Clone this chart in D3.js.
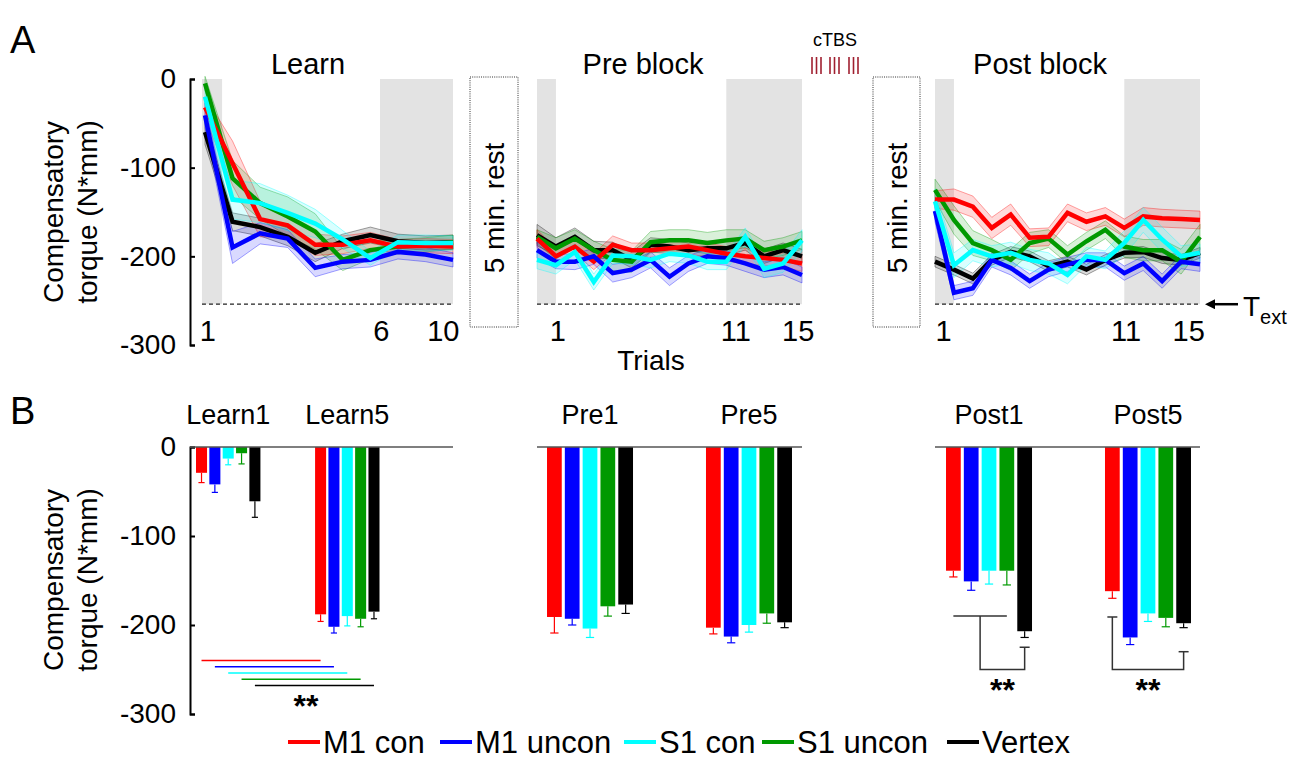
<!DOCTYPE html>
<html><head><meta charset="utf-8">
<script src="https://cdn.jsdelivr.net/npm/d3@7"></script>
<style>
body{margin:0;background:#fff;}
svg text{font-family:"Liberation Sans",Arial,sans-serif;fill:#000;}
</style></head>
<body>
<svg id="c" width="1289" height="759"></svg>
<script>
// ---------- DATA ----------
const seriesNames = ["M1 con","M1 uncon","S1 con","S1 uncon","Vertex"];
const seriesColors = ["#ff0000","#0000ff","#00ffff","#009900","#000000"];

const learnTrials = [1,2,3,4,5,6,7,8,9,10];
const blockTrials = [1,2,3,4,5,6,7,8,9,10,11,12,13,14,15];

const learnM1con   = [-32,-95,-158,-165,-187,-187,-182,-189,-188,-189];
const learnM1uncon = [-41,-190,-174,-180,-213,-206,-204,-195,-198,-204];
const learnS1con   = [-20,-136,-140,-151,-163,-181,-202,-184,-185,-185];
const learnS1uncon = [-5,-112,-140,-155,-172,-204,-193,-189,-187,-184];
const learnVertex  = [-60,-161,-167,-178,-196,-183,-176,-183,-185,-184];
const learnM1conSem   = [12,25,20,14,12,10,9,8,8,8];
const learnM1unconSem = [14,18,12,10,10,8,8,8,8,8];
const learnS1conSem   = [10,22,22,20,16,10,8,8,9,8];
const learnS1unconSem = [8,20,18,22,20,12,10,8,8,8];
const learnVertexSem  = [14,10,10,10,10,8,9,8,8,8];

const preM1con   = [-180,-200,-189,-206,-187,-193,-193,-191,-189,-193,-197,-200,-202,-204,-208];
const preM1uncon = [-193,-206,-206,-200,-219,-215,-204,-223,-208,-200,-202,-208,-215,-212,-221];
const preS1con   = [-204,-210,-195,-229,-199,-200,-204,-197,-199,-206,-206,-178,-214,-208,-182];
const preS1uncon = [-178,-191,-180,-193,-204,-206,-184,-182,-182,-185,-182,-180,-193,-189,-182];
const preVertex  = [-176,-189,-178,-193,-193,-204,-187,-189,-193,-191,-191,-185,-200,-193,-200];
const preM1conSem   = [10,9,8,9,10,8,8,8,8,8,8,9,8,8,9];
const preM1unconSem = [9,8,9,9,10,9,9,10,9,8,8,9,9,9,9];
const preS1conSem   = [10,10,9,9,9,9,9,9,9,9,9,10,10,10,12];
const preS1unconSem = [8,12,10,10,12,12,12,12,12,12,12,10,10,10,10];
const preVertexSem  = [12,10,10,10,9,9,8,8,8,8,8,8,8,8,8];

const postM1con   = [-136,-136,-144,-168,-153,-179,-178,-151,-161,-155,-168,-155,-157,-158,-159];
const postM1uncon = [-149,-241,-236,-204,-213,-228,-215,-209,-204,-204,-219,-208,-228,-206,-209];
const postS1con   = [-138,-210,-193,-200,-196,-204,-208,-221,-200,-204,-185,-159,-181,-200,-196];
const postS1uncon = [-125,-159,-185,-193,-204,-185,-180,-198,-183,-170,-189,-193,-193,-206,-178];
const postVertex  = [-206,-215,-225,-204,-195,-200,-211,-206,-215,-204,-196,-195,-202,-204,-196];
const postM1conSem   = [10,12,12,12,12,10,10,10,10,10,10,10,10,10,10];
const postM1unconSem = [12,8,8,8,8,8,8,8,8,8,8,8,8,8,8];
const postS1conSem   = [14,14,12,12,12,12,12,10,10,10,14,14,14,12,10];
const postS1unconSem = [12,16,14,12,12,12,10,10,10,10,12,12,12,14,14];
const postVertexSem  = [6,6,6,6,6,6,6,6,6,6,6,6,6,6,6];

const T_ext = -254;

const barGroups = ["Learn1","Learn5","Pre1","Pre5","Post1","Post5"];
const learn1Bars = [-29,-42,-13,-7,-61];
const learn1Err  = [11,9,7,12,18];
const learn5Bars = [-188,-202,-190,-193,-185];
const learn5Err  = [8,7,11,9,8];
const pre1Bars = [-191,-193,-204,-179,-177];
const pre1Err  = [18,7,10,11,10];
const pre5Bars = [-203,-213,-200,-187,-197];
const pre5Err  = [7,7,8,11,6];
const post1Bars = [-139,-151,-139,-139,-207];
const post1Err  = [7,10,15,16,7];
const post5Bars = [-162,-214,-187,-192,-198];
const post5Err  = [8,8,9,10,5];

const yTicks = [0,-100,-200,-300];
const learnTickLabels = ["1","6","10"];
const blockTickLabels = ["1","11","15"];
const sigLearnLevels = [-240,-247,-254,-261,-268];

// ---------- DRAW ----------
const svg = d3.select("#c");
const FONT = '"Liberation Sans",Arial,sans-serif';

const yA = d3.scaleLinear().domain([-300,0]).range([345,79]);
const yB = d3.scaleLinear().domain([-300,0]).range([714,447]);

const xLearn = d3.scaleLinear().domain([1,10]).range([205,453]);
const xPre = d3.scaleLinear().domain([1,15]).range([537,802]);
const xPost = d3.scaleLinear().domain([1,15]).range([935,1200]);

const learnData = [[learnM1con,learnM1conSem],[learnM1uncon,learnM1unconSem],[learnS1con,learnS1conSem],[learnS1uncon,learnS1unconSem],[learnVertex,learnVertexSem]];
const preData = [[preM1con,preM1conSem],[preM1uncon,preM1unconSem],[preS1con,preS1conSem],[preS1uncon,preS1unconSem],[preVertex,preVertexSem]];
const postData = [[postM1con,postM1conSem],[postM1uncon,postM1unconSem],[postS1con,postS1conSem],[postS1uncon,postS1unconSem],[postVertex,postVertexSem]];

const drawOrder = [4,3,0,1,2];

function block(x, trials, data, bands, xExtent, title, titleX, tickVals, tickLabels) {
  const g = svg.append("g");
  bands.forEach(b => {
    g.append("rect").attr("x", x(b[0])).attr("y", yA(0))
      .attr("width", x(b[1]) - x(b[0])).attr("height", yA(T_ext) - yA(0))
      .attr("fill", "#e3e3e3");
  });
  g.append("line").attr("x1", x(xExtent[0])).attr("x2", x(xExtent[1]))
    .attr("y1", yA(T_ext)).attr("y2", yA(T_ext))
    .attr("stroke", "#222").attr("stroke-width", 1.3).attr("stroke-dasharray", "4,3");
  const area = d3.area().x((d,i) => x(trials[i])).y0(d => yA(d[0]-d[1])).y1(d => yA(d[0]+d[1]));
  const line = d3.line().x((d,i) => x(trials[i])).y(d => yA(d));
  drawOrder.forEach(s => {
    const [m, e] = data[s];
    const pts = m.map((v,i) => [v, e[i]]);
    g.append("path").attr("d", area(pts)).attr("fill", seriesColors[s]).attr("fill-opacity", 0.15)
      .attr("stroke", seriesColors[s]).attr("stroke-opacity", 0.45).attr("stroke-width", 0.8);
  });
  drawOrder.forEach(s => {
    g.append("path").attr("d", line(data[s][0])).attr("fill", "none")
      .attr("stroke", seriesColors[s]).attr("stroke-width", 4.5).attr("stroke-linejoin", "miter");
  });
  g.append("text").attr("x", titleX).attr("y", 74).attr("text-anchor", "middle")
    .attr("font-size", 29).text(title);
  tickVals.forEach((v,i) => {
    g.append("text").attr("x", x(v)).attr("y", 341).attr("text-anchor", "middle")
      .attr("font-size", 29).text(tickLabels[i]);
  });
}

block(xLearn, learnTrials, learnData, [[0.89,1.62],[7.35,10]], [0.89,10], "Learn", 308, [1.1,7.4,9.65], learnTickLabels);
block(xPre, blockTrials, preData, [[1,2],[11,15]], [1,15], "Pre block", 643, [2.1,11.5,14.8], blockTickLabels);
block(xPost, blockTrials, postData, [[1,2],[11,15]], [1,15], "Post block", 1040, [1.45,11.1,14.4], blockTickLabels);

// Y axes
function yAxis(scale) {
  const g = svg.append("g").attr("transform", "translate(190,0)");
  g.call(d3.axisLeft(scale).tickValues(yTicks).tickFormat(d => String(d)).tickSize(-5).tickPadding(14));
  g.select(".domain").attr("stroke", "#000").attr("stroke-width", 2);
  g.selectAll(".tick line").attr("stroke", "#000").attr("stroke-width", 2);
  g.selectAll(".tick text").attr("font-size", 28).attr("font-family", FONT).attr("fill", "#000");
}
yAxis(yA);
yAxis(yB);

function yLabel(cy) {
  svg.append("text").attr("transform", `translate(63,${cy}) rotate(-90)`)
    .attr("text-anchor", "middle").attr("font-size", 28).text("Compensatory");
  svg.append("text").attr("transform", `translate(97,${cy}) rotate(-90)`)
    .attr("text-anchor", "middle").attr("font-size", 28).text("torque (N*mm)");
}
yLabel(212);
yLabel(580);

svg.append("text").attr("x", 10).attr("y", 53).attr("font-size", 38).text("A");
svg.append("text").attr("x", 10).attr("y", 424).attr("font-size", 38).text("B");
svg.append("text").attr("x", 651).attr("y", 370).attr("text-anchor", "middle").attr("font-size", 28).text("Trials");

// rest boxes
[[470,518],[873,920]].forEach(b => {
  svg.append("rect").attr("x", b[0]).attr("y", 77).attr("width", b[1]-b[0]).attr("height", 250)
    .attr("fill", "none").attr("stroke", "#333").attr("stroke-width", 1).attr("stroke-dasharray", "1,1.2");
  svg.append("text").attr("transform", `translate(${(b[0]+b[1])/2 + 10},208) rotate(-90)`)
    .attr("text-anchor", "middle").attr("font-size", 28).text("5 min. rest");
});

// cTBS
svg.append("text").attr("x", 835).attr("y", 46).attr("text-anchor", "middle").attr("font-size", 18).text("cTBS");
[812,816.5,821,830,834.5,839,849,853.5,858].forEach(x => {
  svg.append("line").attr("x1", x).attr("x2", x).attr("y1", 57).attr("y2", 74)
    .attr("stroke", "#a02030").attr("stroke-width", 1.6);
});

// T_ext arrow
svg.append("defs").append("marker").attr("id","ah").attr("viewBox","0 0 10 10").attr("refX",1).attr("refY",5)
  .attr("markerWidth",4).attr("markerHeight",4).attr("orient","auto-start-reverse")
  .append("path").attr("d","M0,0 L10,5 L0,10 z").attr("fill","#000");
svg.append("line").attr("x1", 1238).attr("x2", 1214).attr("y1", yA(T_ext)).attr("y2", yA(T_ext))
  .attr("stroke", "#000").attr("stroke-width", 2.5).attr("marker-end", "url(#ah)");
const tt = svg.append("text").attr("x", 1243).attr("y", 316).attr("font-size", 28);
tt.append("tspan").text("T");
tt.append("tspan").attr("font-size", 20).attr("dy", 8).text("ext");

// ---------- PANEL B ----------
const sections = [
  {range:[188.5,387], groups:["Learn1","Learn5"], vals:[learn1Bars,learn5Bars], errs:[learn1Err,learn5Err], zero:[190,453]},
  {range:[537,802], groups:["Pre1","Pre5"], vals:[pre1Bars,pre5Bars], errs:[pre1Err,pre5Err], zero:[537,802]},
  {range:[936,1201], groups:["Post1","Post5"], vals:[post1Bars,post5Bars], errs:[post1Err,post5Err], zero:[935,1200]}
];
const centers = {};
sections.forEach(sec => {
  const gx = d3.scaleBand().domain(sec.groups).range(sec.range).paddingInner(0.459).paddingOuter(0.063);
  const sx = d3.scaleBand().domain(d3.range(5)).range([0, gx.bandwidth()]).paddingInner(0.173);
  sec.groups.forEach((gname, gi) => {
    const x0 = gx(gname);
    centers[gname] = seriesNames.map((s,i) => x0 + sx(i) + sx.bandwidth()/2);
    svg.append("text").attr("x", x0 + gx.bandwidth()/2).attr("y", 424).attr("text-anchor", "middle")
      .attr("font-size", 27).text(gname);
    sec.vals[gi].forEach((v,i) => {
      const bx = x0 + sx(i);
      svg.append("rect").attr("x", bx).attr("y", yB(0)).attr("width", sx.bandwidth())
        .attr("height", yB(v) - yB(0)).attr("fill", seriesColors[i]);
      const cx = bx + sx.bandwidth()/2, cw = sx.bandwidth()*0.28;
      const e = sec.errs[gi][i];
      svg.append("line").attr("x1", cx).attr("x2", cx).attr("y1", yB(v)).attr("y2", yB(v - e))
        .attr("stroke", seriesColors[i]).attr("stroke-width", 1.2);
      svg.append("line").attr("x1", cx - cw).attr("x2", cx + cw).attr("y1", yB(v - e)).attr("y2", yB(v - e))
        .attr("stroke", seriesColors[i]).attr("stroke-width", 1.2);
    });
  });
  svg.append("line").attr("x1", sec.zero[0]).attr("x2", sec.zero[1]).attr("y1", yB(0)).attr("y2", yB(0))
    .attr("stroke", "#555").attr("stroke-width", 1.5);
});

// learn significance lines
sigLearnLevels.forEach((lv,i) => {
  svg.append("line").attr("x1", centers["Learn1"][i]).attr("x2", centers["Learn5"][i])
    .attr("y1", yB(lv)).attr("y2", yB(lv)).attr("stroke", seriesColors[i]).attr("stroke-width", 1.5);
});
function stars(x, v) {
  svg.append("text").attr("x", x).attr("y", yB(v)).attr("text-anchor", "middle")
    .attr("font-size", 32).attr("font-weight", "bold").text("**");
}
stars(306, -303);

// post brackets
function bracketLine(pts) {
  svg.append("path").attr("d", d3.line()(pts)).attr("fill", "none").attr("stroke", "#333").attr("stroke-width", 1.5);
}
const p1 = centers["Post1"], p5 = centers["Post5"];
bracketLine([[p1[0], yB(-190)], [p1[3], yB(-190)]]);
const mid1 = (p1[0] + p1[3]) / 2;
bracketLine([[mid1, yB(-190)], [mid1, yB(-250)], [p1[4], yB(-250)], [p1[4], yB(-225)]]);
bracketLine([[p1[4]-5, yB(-225)], [p1[4]+5, yB(-225)]]);
stars((mid1 + p1[4]) / 2, -285);

bracketLine([[p5[0]-5, yB(-191)], [p5[0]+5, yB(-191)]]);
bracketLine([[p5[0], yB(-191)], [p5[0], yB(-250)], [p5[4], yB(-250)], [p5[4], yB(-230)]]);
bracketLine([[p5[4]-5, yB(-230)], [p5[4]+5, yB(-230)]]);
stars((p5[0] + p5[4]) / 2, -285);

// legend
const legX = [288, 440, 624, 762, 947];
seriesNames.forEach((s,i) => {
  svg.append("line").attr("x1", legX[i]).attr("x2", legX[i] + 32).attr("y1", 742).attr("y2", 742)
    .attr("stroke", seriesColors[i]).attr("stroke-width", 4);
  svg.append("text").attr("x", legX[i] + 35).attr("y", 753).attr("font-size", 31).text(s);
});
</script>
</body></html>
